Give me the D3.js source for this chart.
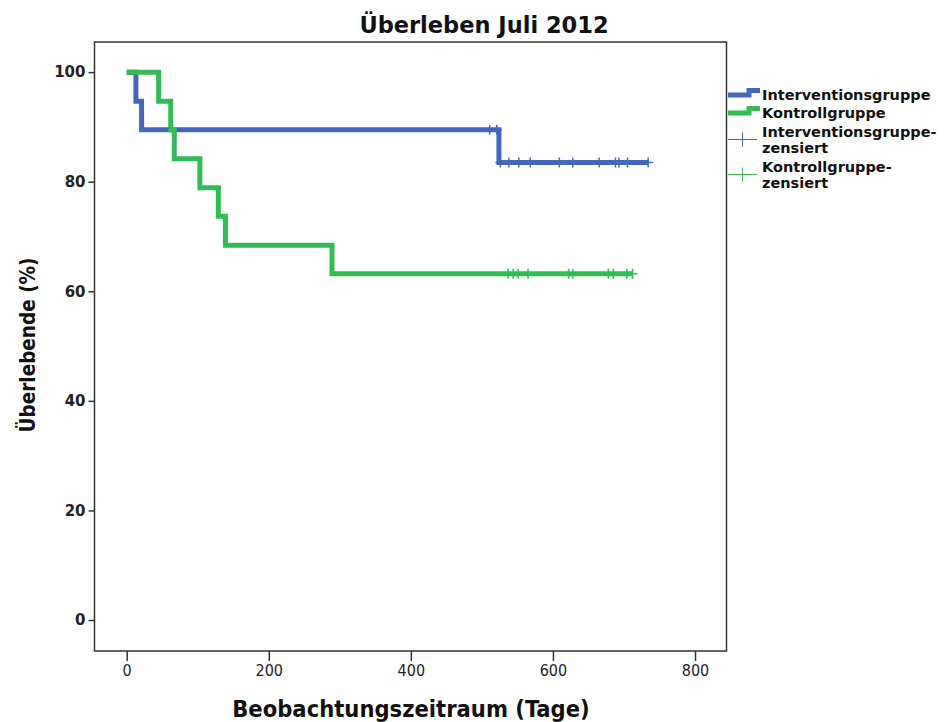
<!DOCTYPE html>
<html>
<head>
<meta charset="utf-8">
<script src="https://cdn.jsdelivr.net/npm/d3@7"></script>
<style>
  body { margin: 0; background: #fff; }
</style>
</head>
<body>
<svg id="drawing_region"></svg>
<script>
// Interventionsgruppe: step times (Tage) and survival (%)
const intTime = [0, 13, 21, 524];
const intSurv = [100, 94.7, 89.5, 83.5];
const intEnd = 734;
const intCensored = [511, 521, 526, 538, 552, 568, 609, 628, 665, 688, 693, 705, 734];

// Kontrollgruppe
const ctrlTime = [0, 45, 62, 67, 103, 129, 139, 289];
const ctrlSurv = [100, 94.7, 89.5, 84.2, 78.9, 73.7, 68.4, 63.2];
const ctrlEnd = 712;
const ctrlCensored = [537, 544, 551, 565, 622, 628, 678, 685, 704, 712];

const xTicks = [0, 200, 400, 600, 800];
const yTicks = [0, 20, 40, 60, 80, 100];

const legendLabels = [["Interventionsgruppe"], ["Kontrollgruppe"],
                      ["Interventionsgruppe-", "zensiert"], ["Kontrollgruppe-", "zensiert"]];

const blue = "#4466bb";
const green = "#33bb55";

const config = {
    width: 949,
    height: 722,
    margin: {top: 42, right: 222.5, bottom: 71, left: 94.5}
};

const svg = d3.select('#drawing_region')
    .attr('width', config.width)
    .attr('height', config.height);

const inner_width = config.width - config.margin.left - config.margin.right;
const inner_height = config.height - config.margin.top - config.margin.bottom;

const chart = svg.append('g')
    .attr('transform', `translate(${config.margin.left}, ${config.margin.top})`);

const xscale = d3.scaleLinear().domain([-45.3, 844.3]).range([0, inner_width]);
const yscale = d3.scaleLinear().domain([-5.66, 105.5]).range([inner_height, 0]);

// frame
chart.append('rect')
    .attr('width', inner_width)
    .attr('height', inner_height)
    .attr('fill', 'none')
    .attr('stroke', '#333')
    .attr('stroke-width', 1.5);

// axes
const xaxis = d3.axisBottom(xscale).tickValues(xTicks).tickSize(10).tickSizeOuter(0).tickPadding(4);
const yaxis = d3.axisLeft(yscale).tickValues(yTicks).tickSize(6).tickSizeOuter(0).tickPadding(3);

const xg = chart.append('g')
    .attr('transform', `translate(0, ${inner_height})`)
    .call(xaxis);
xg.select('.domain').remove();
xg.selectAll('line').attr('stroke', '#333').attr('stroke-width', 1.5);
xg.selectAll('text')
    .attr('fill', '#222')
    .style('font-family', '"DejaVu Sans Condensed", "DejaVu Sans", sans-serif')
    .style('font-size', '16px');

const yg = chart.append('g').call(yaxis);
yg.select('.domain').remove();
yg.selectAll('line').attr('stroke', '#333').attr('stroke-width', 1.5);
yg.selectAll('text')
    .attr('fill', '#222')
    .style('font-family', '"DejaVu Sans", sans-serif')
    .style('font-weight', 'bold')
    .style('font-size', '15px');

// step curves
function stepData(times, surv, end) {
    const pts = times.map((t, i) => ({t: t, s: surv[i]}));
    pts.push({t: end, s: surv[surv.length - 1]});
    return pts;
}
function survAt(times, surv, t) {
    let s = surv[0];
    times.forEach((tt, i) => { if (tt <= t) s = surv[i]; });
    return s;
}

const line = d3.line()
    .x(d => xscale(d.t))
    .y(d => yscale(d.s))
    .curve(d3.curveStepAfter);

const groups = [
    {times: intTime, surv: intSurv, end: intEnd, cens: intCensored, color: blue},
    {times: ctrlTime, surv: ctrlSurv, end: ctrlEnd, cens: ctrlCensored, color: green}
];

groups.forEach(g => {
    chart.append('path')
        .datum(stepData(g.times, g.surv, g.end))
        .attr('d', line)
        .attr('fill', 'none')
        .attr('stroke', g.color)
        .attr('stroke-width', 5);
});

groups.forEach(g => {
    chart.selectAll(null)
        .data(g.cens)
        .enter()
        .append('path')
        .attr('d', d => {
            const x = xscale(d), y = yscale(survAt(g.times, g.surv, d));
            return `M${x},${y - 5}V${y + 5}M${x - 5},${y}H${x + 5}`;
        })
        .attr('stroke', g.color)
        .attr('stroke-width', 1.5)
        .attr('fill', 'none');
});

// title and axis labels
svg.append('text')
    .attr('x', 484)
    .attr('y', 33)
    .attr('text-anchor', 'middle')
    .style('font-family', '"DejaVu Sans", sans-serif')
    .style('font-weight', 'bold')
    .style('font-size', '22.5px')
    .attr('fill', '#111')
    .text('Überleben Juli 2012');

svg.append('text')
    .attr('x', 411)
    .attr('y', 717)
    .attr('text-anchor', 'middle')
    .style('font-family', '"DejaVu Sans Condensed", "DejaVu Sans", sans-serif')
    .style('font-weight', 'bold')
    .style('font-size', '23.5px')
    .attr('fill', '#111')
    .text('Beobachtungszeitraum (Tage)');

svg.append('text')
    .attr('transform', 'translate(35, 345) rotate(-90)')
    .attr('text-anchor', 'middle')
    .style('font-family', '"DejaVu Sans Condensed", "DejaVu Sans", sans-serif')
    .style('font-weight', 'bold')
    .style('font-size', '20.5px')
    .attr('fill', '#111')
    .text('Überlebende (%)');

// legend
const legend = svg.append('g');
const legendColors = [blue, green, blue, green];
const legendBase = [100, 118, 136.5, 171.5];

legendLabels.forEach((lines, i) => {
    const y = legendBase[i];
    if (i < 2) {
        legend.append('path')
            .attr('d', `M728,${y - 5}H749V${y - 9.5}H760`)
            .attr('fill', 'none')
            .attr('stroke', legendColors[i])
            .attr('stroke-width', 5);
    } else {
        const cy = y + 3;
        legend.append('path')
            .attr('d', `M728,${cy}H757M742.5,${cy - 7}V${cy + 7}`)
            .attr('fill', 'none')
            .attr('stroke', legendColors[i])
            .attr('stroke-width', 1);
    }
    const t = legend.append('text')
        .attr('x', 762)
        .attr('y', y)
        .style('font-family', '"DejaVu Sans", sans-serif')
        .style('font-weight', 'bold')
        .style('font-size', '14.5px')
        .attr('fill', '#111');
    lines.forEach((l, j) => {
        t.append('tspan').attr('x', 762).attr('dy', j === 0 ? 0 : 16.5).text(l);
    });
});
</script>
</body>
</html>
